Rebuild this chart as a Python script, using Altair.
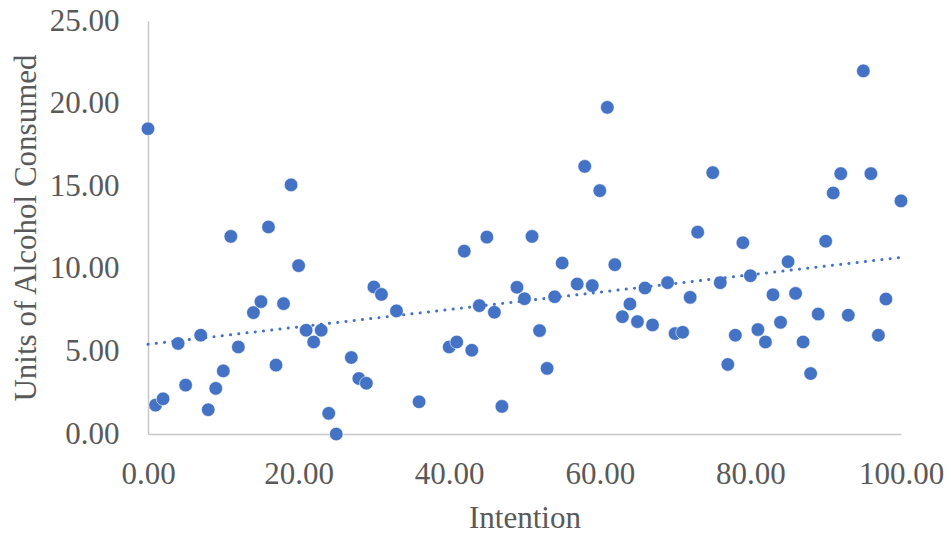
import altair as alt
import pandas as pd

intention = [0, 1, 2, 4, 5, 7, 8, 9, 10, 11, 12, 14, 15, 16, 17, 18, 19, 20, 21, 22,
             23, 24, 25, 27, 28, 29, 30, 31, 33, 36, 40, 41, 42, 43, 44, 45, 46, 47, 49, 50,
             51, 52, 53, 54, 55, 57, 58, 59, 60, 61, 62, 63, 64, 65, 66, 67, 69, 70, 71, 72,
             73, 75, 76, 77, 78, 79, 80, 81, 82, 83, 84, 85, 86, 87, 88, 89, 90, 91, 92, 93,
             95, 96, 97, 98, 100]
units = [18.48, 1.75, 2.13, 5.48, 2.96, 5.98, 1.47, 2.76, 3.82, 11.96, 5.27, 7.35, 8.01, 12.53, 4.17, 7.89, 15.08, 10.19, 6.28, 5.57,
         6.28, 1.25, 0.00, 4.63, 3.36, 3.07, 8.90, 8.45, 7.45, 1.95, 5.27, 5.57, 11.07, 5.07, 7.77, 11.92, 7.37, 1.67, 8.88, 8.19,
         11.96, 6.26, 3.97, 8.31, 10.35, 9.08, 16.20, 8.98, 14.73, 19.77, 10.25, 7.10, 7.87, 6.80, 8.84, 6.60, 9.16, 6.08, 6.16, 8.27,
         12.22, 15.82, 9.16, 4.21, 5.98, 11.58, 9.58, 6.32, 5.57, 8.43, 6.76, 10.43, 8.51, 5.57, 3.66, 7.26, 11.67, 14.59, 15.76, 7.19,
         21.98, 15.76, 5.98, 8.17, 14.11]

x_ticks = [0, 20, 40, 60, 80, 100]
y_ticks = [0, 5, 10, 15, 20, 25]

df = pd.DataFrame({"Intention": intention, "Units": units})

FONT = "Liberation Serif"
TEXT = "#595959"
BLUE = "#4472C4"

xscale = alt.Scale(domain=[0, 100], nice=False, zero=False)
yscale = alt.Scale(domain=[0, 25], nice=False)

x_axis = alt.Axis(title="Intention", values=x_ticks, format=".2f", labelPadding=49,
                  labelBaseline="alphabetic", labelFlush=False, titleY=93,
                  titleBaseline="alphabetic")
y_axis = alt.Axis(title="Units of Alcohol Consumed", values=y_ticks, format=".2f",
                  labelPadding=29, titleX=-122, titleY=206.5, titleAngle=-90,
                  titleBaseline="middle", titleAlign="center")

points = alt.Chart(df).mark_circle(size=185, color=BLUE, opacity=1, stroke="white",
                                   strokeWidth=0.6).encode(
    x=alt.X("Intention:Q", scale=xscale, axis=x_axis),
    y=alt.Y("Units:Q", scale=yscale, axis=y_axis),
)

trend = alt.Chart(df).transform_regression(
    "Intention", "Units", extent=[0, 100]
).mark_line(color=BLUE, strokeWidth=3, strokeDash=[0.1, 8.2], strokeCap="round").encode(
    x=alt.X("Intention:Q", scale=xscale),
    y=alt.Y("Units:Q", scale=yscale),
)

chart = alt.layer(points, trend).properties(
    width=753, height=413,
    autosize=alt.AutoSizeParams(type="none"),
    padding={"left": 148, "top": 21, "right": 50, "bottom": 102},
    background="white",
).configure_view(stroke=None).configure_axis(
    domainColor="#C8C8C8", domainWidth=1.5, ticks=False, tickSize=0, grid=False,
    labelFont=FONT, labelFontSize=31, labelColor=TEXT,
    titleFont=FONT, titleFontSize=31, titleFontWeight="normal", titleColor=TEXT,
)

chart.save("out.html", embed_options={"renderer": "svg", "actions": False})
